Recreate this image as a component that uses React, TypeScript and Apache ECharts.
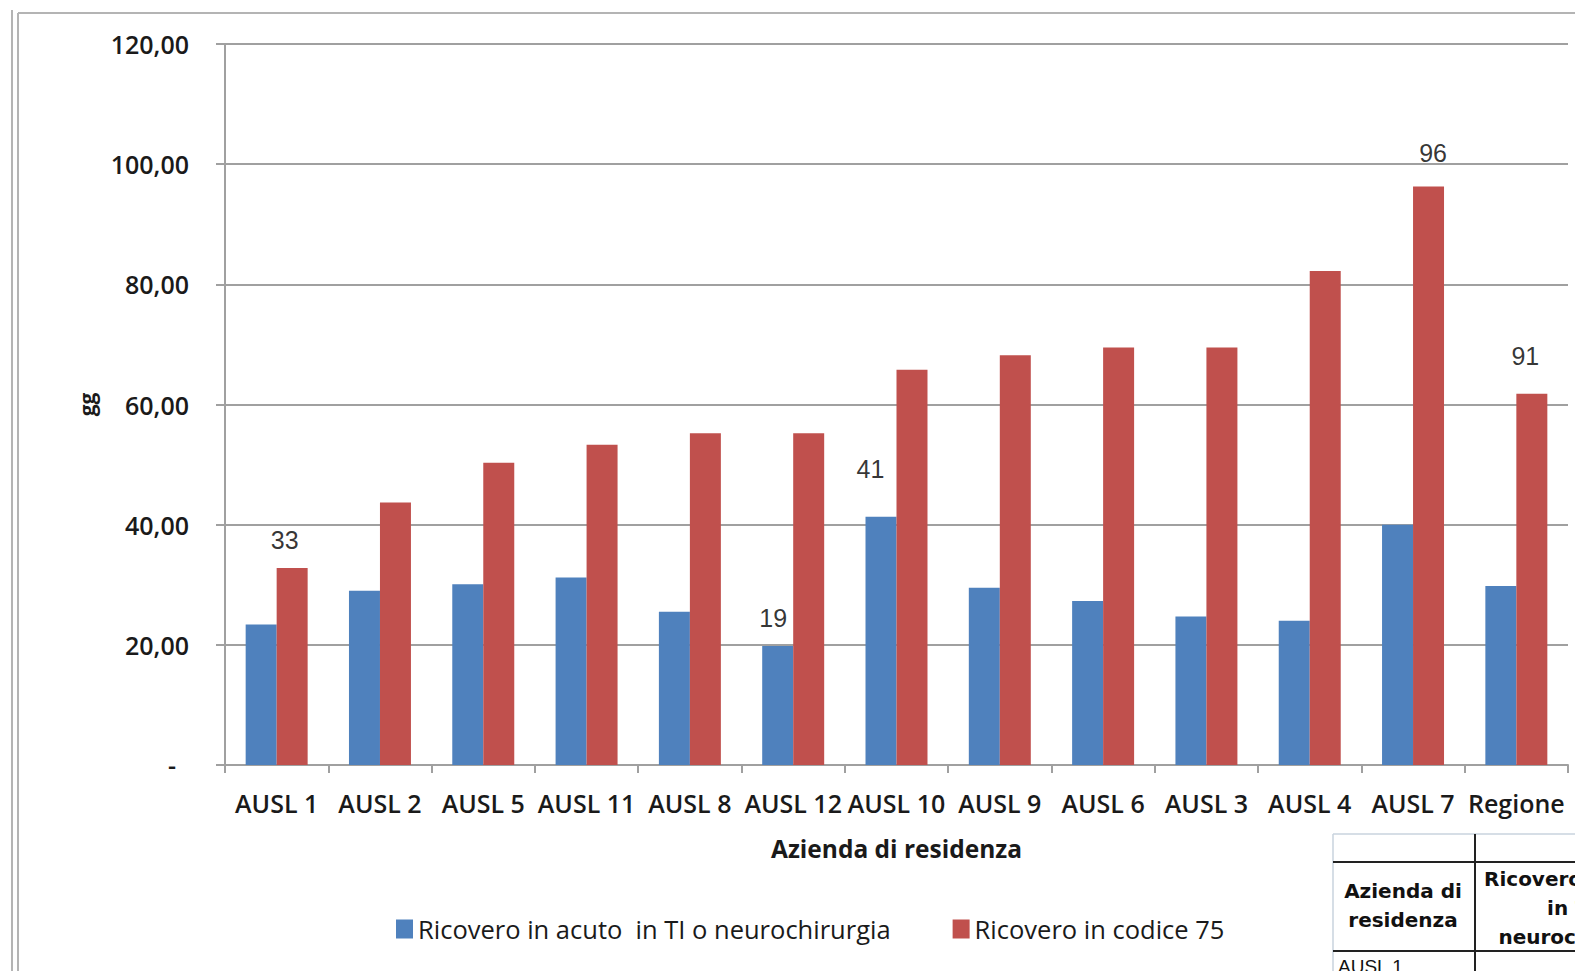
import React, { useEffect, useRef } from "react";
import * as echarts from "echarts";

const categories = ["AUSL 1", "AUSL 2", "AUSL 5", "AUSL 11", "AUSL 8", "AUSL 12", "AUSL 10", "AUSL 9", "AUSL 6", "AUSL 3", "AUSL 4", "AUSL 7", "Regione"];
const acutoValues = [23.4, 29.0, 30.1, 31.2, 25.5, 19.8, 41.3, 29.5, 27.3, 24.7, 24.0, 40.0, 29.8];
const codice75Values = [32.8, 43.7, 50.3, 53.3, 55.2, 55.2, 65.8, 68.2, 69.5, 69.5, 82.2, 96.3, 61.8];
const seriesNames = ["Ricovero in acuto  in TI o neurochirurgia", "Ricovero in codice 75"];
const yTicks = [0, 20, 40, 60, 80, 100, 120];

// annotation labels written on the chart
const annoTexts = ["33", "19", "41", "96", "91"];
const annoCategories = ["AUSL 1", "AUSL 12", "AUSL 10", "AUSL 7", "Regione"];
const annoValues = [37.5, 24.5, 49.2, 101.8, 68.0];
const annoOffsets = [8, -20, -26, 20, 9];

// partial table text
const tableHeaderLeft = ["Azienda di", "residenza"];
const tableHeaderRight = ["Ricovero in acuto", "in TI o", "neurochirurgia"];
const tableFirstRow = "AUSL 1";

const TXT = "#1a1a1a";
const GRID = "#a0a0a0";
const FONT = "Open Sans";

export default function App() {
  const ref = useRef<HTMLDivElement>(null);
  useEffect(() => {
    if (!ref.current) return;
    const chart = echarts.init(ref.current, null, { renderer: "svg" });
    const option: any = {
      animation: false,
      backgroundColor: "#ffffff",
      textStyle: { fontFamily: FONT },
      grid: { left: 225, right: 7, top: 44, bottom: 206, containLabel: false },
      legend: {
        left: 396,
        top: 916,
        padding: 0,
        icon: "rect",
        itemWidth: 17,
        itemHeight: 19,
        itemGap: 62,
        data: seriesNames,
        textStyle: { fontSize: 25.5, color: TXT, fontFamily: FONT, fontWeight: 400 },
      },
      xAxis: {
        type: "category",
        data: categories,
        axisLine: { lineStyle: { color: GRID, width: 2 } },
        axisTick: { show: true, length: 8, lineStyle: { color: GRID, width: 2 } },
        axisLabel: { interval: 0, margin: 25, fontSize: 25, fontWeight: 600, color: TXT, fontFamily: FONT },
        name: "Azienda di residenza",
        nameLocation: "middle",
        nameGap: 71,
        nameTextStyle: { fontSize: 24.5, fontWeight: 700, color: TXT, fontFamily: FONT },
      },
      yAxis: {
        type: "value",
        min: yTicks[0],
        max: yTicks[yTicks.length - 1],
        interval: 20,
        axisLine: { show: true, lineStyle: { color: GRID, width: 2 } },
        axisTick: { show: true, length: 9, lineStyle: { color: GRID, width: 2 } },
        splitLine: { show: true, lineStyle: { color: GRID, width: 2 } },
        axisLabel: {
          margin: 36,
          fontSize: 25,
          fontWeight: 600,
          color: TXT,
          fontFamily: FONT,
          formatter: (v: number) => (v === 0 ? "{z|-}" : v.toFixed(2).replace(".", ",")),
          rich: { z: { padding: [0, 13, 0, 0], fontSize: 25, fontWeight: 600, color: TXT, fontFamily: FONT } },
        },
        name: "gg",
        nameLocation: "middle",
        nameRotate: 90,
        nameGap: 128,
        nameTextStyle: { fontSize: 21, fontWeight: 700, color: TXT, fontFamily: FONT },
      },
      series: [
        {
          name: seriesNames[0],
          type: "bar",
          data: acutoValues,
          barGap: "0%",
          barCategoryGap: "40%",
          itemStyle: { color: "#4F81BD" },
        },
        {
          name: seriesNames[1],
          type: "bar",
          data: codice75Values,
          barGap: "0%",
          barCategoryGap: "40%",
          itemStyle: { color: "#C0504D" },
        },
        {
          name: "annotazioni",
          type: "scatter",
          symbolSize: 1,
          z: 10,
          itemStyle: { color: "rgba(0,0,0,0)" },
          silent: true,
          data: annoTexts.map((t, i) => ({
            name: t,
            value: [annoCategories[i], annoValues[i]],
            label: {
              show: true,
              position: "inside",
              offset: [annoOffsets[i], 0],
              formatter: t,
              fontSize: 25,
              color: "#000",
              fontFamily: "Liberation Sans",
              backgroundColor: t === "19" ? "#ffffff" : "transparent",
              padding: [0, 1],
            },
          })),
        },
      ],
      graphic: [
        { type: "line", shape: { x1: 12, y1: 10, x2: 12, y2: 971 }, style: { stroke: "#b4b4b4", lineWidth: 2 } },
        { type: "line", shape: { x1: 18, y1: 13, x2: 18, y2: 971 }, style: { stroke: "#b4b4b4", lineWidth: 2 } },
        { type: "line", shape: { x1: 18, y1: 13, x2: 1575, y2: 13 }, style: { stroke: "#b4b4b4", lineWidth: 2 } },
        { type: "rect", shape: { x: 1333, y: 834, width: 242, height: 137 }, style: { fill: "#ffffff", stroke: "none" } },
        { type: "line", shape: { x1: 1333, y1: 834, x2: 1575, y2: 834 }, style: { stroke: "#c9d3de", lineWidth: 1.5 } },
        { type: "line", shape: { x1: 1333, y1: 834, x2: 1333, y2: 971 }, style: { stroke: "#c9d3de", lineWidth: 1.5 } },
        { type: "line", shape: { x1: 1333, y1: 862, x2: 1575, y2: 862 }, style: { stroke: "#222", lineWidth: 2 } },
        { type: "line", shape: { x1: 1333, y1: 951, x2: 1575, y2: 951 }, style: { stroke: "#222", lineWidth: 2 } },
        { type: "line", shape: { x1: 1475, y1: 834, x2: 1475, y2: 971 }, style: { stroke: "#222", lineWidth: 2 } },
        ...tableHeaderLeft.map((t, i) => ({
          type: "text",
          x: 1403,
          y: 891 + i * 29,
          style: { text: t, fill: "#111", font: "bold 20px 'DejaVu Sans'", textAlign: "center", textVerticalAlign: "middle" },
        })),
        ...tableHeaderRight.map((t, i) => ({
          type: "text",
          x: 1582,
          y: 879 + i * 29,
          style: { text: t, fill: "#111", font: "bold 20px 'DejaVu Sans'", textAlign: "center", textVerticalAlign: "middle" },
        })),
        {
          type: "text",
          x: 1338,
          y: 966,
          style: { text: tableFirstRow, fill: "#111", font: "19px 'Liberation Sans'", textAlign: "left", textVerticalAlign: "middle" },
        },
      ],
    };
    chart.setOption(option);
    return () => chart.dispose();
  }, []);
  return <div ref={ref} style={{ position: "absolute", left: 0, top: 0, width: 1575, height: 971 }} />;
}
